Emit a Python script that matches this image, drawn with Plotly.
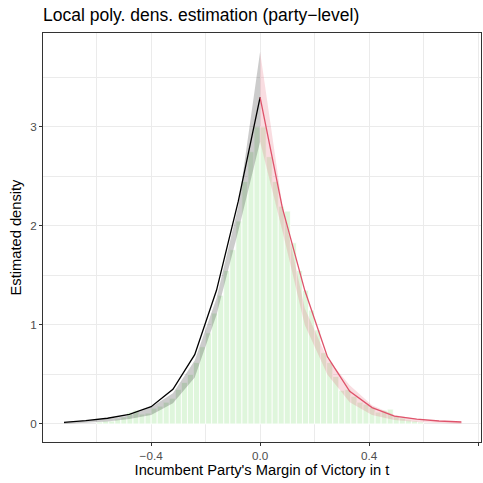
import plotly.graph_objects as go

# Histogram (bin width 0.2/9, split at cutoff 0)
bw = 0.2 / 9
left_hist = [0.02, 0.03, 0.03, 0.05, 0.07, 0.12, 0.14, 0.10, 0.11, 0.16, 0.18, 0.22, 0.26,
             0.35, 0.42, 0.50, 0.62, 0.78, 0.92, 1.12, 1.30, 1.55, 1.76, 2.05, 2.45, 2.75, 3.00]
right_hist = [3.00, 2.70, 2.45, 2.20, 2.15, 1.83, 1.55, 1.35, 1.15, 0.95, 0.72, 0.62, 0.48,
              0.34, 0.35, 0.28, 0.22, 0.20, 0.17, 0.12, 0.14, 0.15, 0.08, 0.06, 0.04, 0.03, 0.02]
left_centers = [-(len(left_hist) - i - 0.5) * bw for i in range(len(left_hist))]
right_centers = [(i + 0.5) * bw for i in range(len(right_hist))]

# Density estimates, left of cutoff
left_x = [-0.72, -0.64, -0.56, -0.48, -0.40, -0.32, -0.24, -0.16, -0.08, 0.0]
left_y = [0.017, 0.033, 0.058, 0.098, 0.175, 0.35, 0.70, 1.35, 2.25, 3.30]
left_lo = [0.0, 0.01, 0.025, 0.05, 0.09, 0.21, 0.47, 1.10, 1.95, 2.85]
left_hi = [0.02, 0.035, 0.05, 0.085, 0.17, 0.31, 0.64, 1.27, 2.20, 3.76]

# Density estimates, right of cutoff
right_x = [0.0, 0.082, 0.164, 0.247, 0.329, 0.411, 0.493, 0.575, 0.657, 0.739]
right_y = [3.30, 2.18, 1.35, 0.68, 0.33, 0.165, 0.08, 0.05, 0.03, 0.02]
right_lo = [2.85, 1.95, 1.00, 0.50, 0.22, 0.09, 0.04, 0.02, 0.01, 0.0]
right_hi = [3.76, 2.20, 1.17, 0.66, 0.39, 0.19, 0.09, 0.05, 0.03, 0.02]

x_ticks = [-0.4, 0.0, 0.4, 0.8]
y_ticks = [0, 1, 2, 3]

fig = go.Figure()
fig.add_trace(go.Bar(x=left_centers + right_centers, y=left_hist + right_hist, width=bw,
                     marker=dict(color="#DFF6DC", line=dict(color="white", width=0.8)),
                     showlegend=False))
fig.add_trace(go.Scatter(x=left_x + left_x[::-1], y=left_hi + left_lo[::-1], fill="toself",
                         fillcolor="rgba(0,0,0,0.2)", line=dict(width=0), mode="lines",
                         showlegend=False, hoverinfo="skip"))
fig.add_trace(go.Scatter(x=right_x + right_x[::-1], y=right_hi + right_lo[::-1], fill="toself",
                         fillcolor="rgba(223,83,107,0.2)", line=dict(width=0), mode="lines",
                         showlegend=False, hoverinfo="skip"))
fig.add_trace(go.Scatter(x=left_x, y=left_y, mode="lines", line=dict(color="black", width=1.3),
                         showlegend=False))
fig.add_trace(go.Scatter(x=right_x, y=right_y, mode="lines", line=dict(color="#DF536B", width=1.3),
                         showlegend=False))

axis_common = dict(showgrid=True, gridcolor="#EBEBEB", gridwidth=1.1, zeroline=False,
                   showline=True, linecolor="#333333", linewidth=1, mirror=True,
                   ticks="outside", ticklen=3, tickcolor="#333333", tickwidth=1,
                   tickfont=dict(family="Liberation Sans, Arial", size=11.7, color="#4D4D4D"))

fig.update_layout(
    width=483, height=483,
    margin=dict(l=43, r=2, t=33, b=41),
    paper_bgcolor="white", plot_bgcolor="white",
    barmode="overlay",
    font=dict(family="Liberation Sans, Arial", color="black"),
    title=dict(text="Local poly. dens. estimation (party\u2212level)", x=43 / 483, xanchor="left",
               y=1 - 15 / 483, yanchor="middle",
               font=dict(size=17.5, color="black", family="Liberation Sans, Arial")),
    xaxis=dict(range=[-0.797, 0.811], tickvals=x_ticks, tickformat=".1f",
               minor=dict(tickvals=[-0.6, -0.2, 0.2, 0.6], showgrid=True, gridcolor="#EBEBEB",
                          gridwidth=0.6, ticks=""),
               title=dict(text="Incumbent Party's Margin of Victory in t", standoff=2,
                          font=dict(size=14.7, color="black")),
               **axis_common),
    yaxis=dict(range=[-0.182, 3.949], tickvals=y_ticks,
               minor=dict(tickvals=[0.5, 1.5, 2.5, 3.5], showgrid=True, gridcolor="#EBEBEB",
                          gridwidth=0.6, ticks=""),
               title=dict(text="Estimated density", standoff=4,
                          font=dict(size=14.7, color="black")),
               **axis_common),
)

fig.write_html("out.html")
